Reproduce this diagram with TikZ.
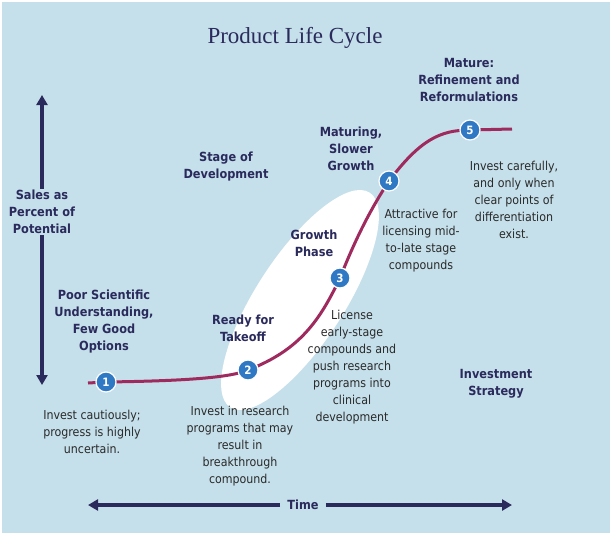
\documentclass[tikz,border=0pt]{standalone}
\usepackage{fontspec}
\setmainfont{DejaVu Sans Condensed}
\newfontfamily\titlefont{Liberation Serif}
\usetikzlibrary{arrows.meta}
\definecolor{bg}{HTML}{C5E0EA}
\definecolor{navy}{HTML}{2A2A5C}
\definecolor{curvec}{HTML}{9E2A5E}
\definecolor{circ}{HTML}{2F78C4}
\definecolor{body}{HTML}{2A2A2A}
\begin{document}
\begin{tikzpicture}[x=1pt,y=-1pt,
  head/.style={font=\bfseries\fontsize{12.6}{17}\selectfont, text=navy, align=center, inner sep=1pt},
  txt/.style={font=\fontsize{12.3}{17}\selectfont, text=body, align=center, inner sep=1pt},
  num/.style={circle, fill=circ, draw=white, line width=1.2pt, minimum size=20pt, inner sep=0pt, text=white, font=\bfseries\fontsize{11.5}{11.5}\selectfont},
  axis/.style={navy, line width=3.2pt, -{Triangle[length=10pt,width=11pt]}}]
\useasboundingbox (0,0) rectangle (612,541);
\fill[white] (0,0) rectangle (612,541);
\fill[bg] (2,2) rectangle (610,533);
\fill[white] (300,300) ellipse[x radius=128, y radius=44, rotate=57];
\node[font=\titlefont\fontsize{23}{23}\selectfont, text=navy] (title) at (295,38) {Product Life Cycle};
% axes
\node[head] (sales) at (42,212) {Sales as\\Percent of\\Potential};
\coordinate (vt) at (42,95); \coordinate (vb) at (42,385);
\draw[axis] (sales.north) -- (vt);
\draw[axis] (sales.south) -- (vb);
\node[head] (time) at (303,505) {Time};
\coordinate (hl) at (88,505); \coordinate (hr) at (512,505);
\draw[axis] (time.west) ++(-6,0) -- (hl);
\draw[axis] (time.east) ++(6,0) -- (hr);
% curve
\coordinate (s) at (88,383); \coordinate (e) at (512,129);
\coordinate (c1) at (106,382); \coordinate (c2) at (248,370);
\coordinate (c3) at (340,278); \coordinate (c4) at (389,181);
\coordinate (c5) at (470,130);
\draw[curvec, line width=3pt] (s) -- (c1) .. controls (180,381) and (230,378) .. (c2)
  .. controls (300,350) and (320,320) .. (c3)
  .. controls (355,240) and (370,210) .. (c4)
  .. controls (420,140) and (440,130) .. (c5) -- (e);
\node[num] (n1) at (c1) {1};
\node[num] (n2) at (c2) {2};
\node[num] (n3) at (c3) {3};
\node[num] (n4) at (c4) {4};
\node[num] (n5) at (c5) {5};
% headings
\node[head] (h1) at (104,322) {Poor Scientific\\Understanding,\\Few Good\\Options};
\node[head] (h2) at (243,328) {Ready for\\Takeoff};
\node[head] (h3) at (314,243) {Growth\\Phase};
\node[head] (h4) at (351,149) {Maturing,\\Slower\\Growth};
\node[head] (h5) at (469,80) {Mature:\\Refinement and\\Reformulations};
\node[head] (sd) at (226,167) {Stage of\\Development};
\node[head] (is) at (496,384) {Investment\\Strategy};
% body
\node[txt] (t1) at (92,432) {Invest cautiously;\\progress is highly\\uncertain.};
\node[txt] (t2) at (240,446) {Invest in research\\programs that may\\result in\\breakthrough\\compound.};
\node[txt] (t3) at (352,367) {License\\early-stage\\compounds and\\push research\\programs into\\clinical\\development};
\node[txt] (t4) at (421,241) {Attractive for\\licensing mid-\\to-late stage\\compounds};
\node[txt] (t5) at (514,200) {Invest carefully,\\and only when\\clear points of\\differentiation\\exist.};
\end{tikzpicture}
\end{document}
